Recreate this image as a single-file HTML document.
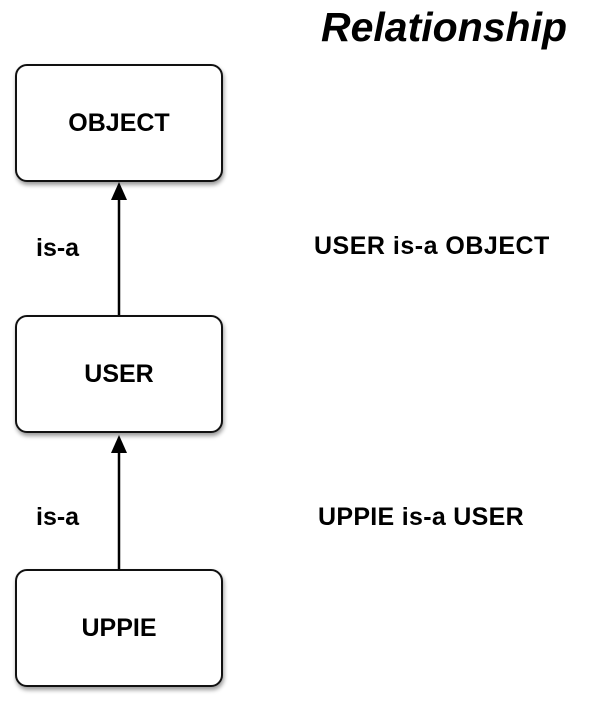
<!DOCTYPE html>
<html><head><style>
body{margin:0;width:600px;height:704px;background:#fff;position:relative;font-family:"Liberation Sans",sans-serif;font-weight:bold;overflow:hidden}
.box{position:absolute;left:15px;width:204px;height:114px;border:2px solid #111;border-radius:12px;box-shadow:1px 3px 4px rgba(0,0,0,.4);background:#fff;display:flex;align-items:center;justify-content:center;font-size:25px}
.t{position:absolute;font-size:25px;white-space:nowrap;line-height:1}
</style></head><body>
<div class="t" style="left:321px;top:7px;font-size:41px;font-style:italic">Relationship</div>
<div class="box" style="top:64px">OBJECT</div>
<div class="box" style="top:315px">USER</div>
<div class="box" style="top:569px">UPPIE</div>
<svg width="600" height="704" style="position:absolute;left:0;top:0">
<line x1="119" y1="315" x2="119" y2="198" stroke="#000" stroke-width="2.5"/>
<polygon points="119,182 111,200 127,200" fill="#000"/>
<line x1="119" y1="569" x2="119" y2="452" stroke="#000" stroke-width="2.5"/>
<polygon points="119,435 111,453 127,453" fill="#000"/>
</svg>
<div class="t" style="left:36px;top:236px">is-a</div>
<div class="t" style="left:36px;top:505px">is-a</div>
<div class="t" style="left:314px;top:234px;letter-spacing:0.5px">USER is-a OBJECT</div>
<div class="t" style="left:318px;top:505px;letter-spacing:0.3px">UPPIE is-a USER</div>
</body></html>
